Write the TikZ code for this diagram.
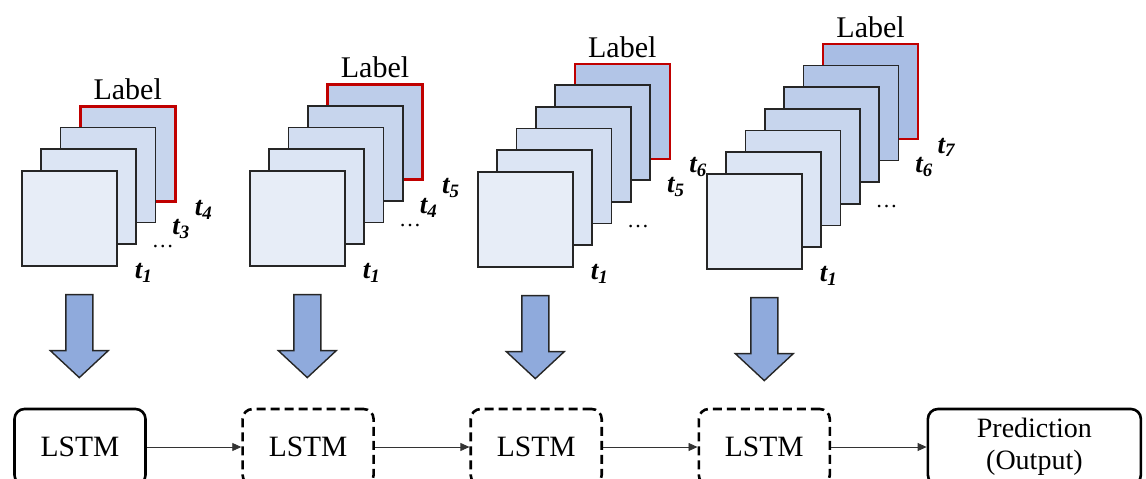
\documentclass[tikz,border=0pt]{standalone}
\usepackage{fontspec}
\setmainfont{Liberation Serif}
\usetikzlibrary{arrows.meta,positioning}

\definecolor{frontblue}{RGB}{231,237,247}
\definecolor{darkblue}{RGB}{143,170,220}
\definecolor{labelred}{RGB}{192,0,0}

\begin{document}
\begin{tikzpicture}[x=1pt, y=-1pt,
  frame/.style={draw=black!85, line width=1.6pt, minimum size=95pt, inner sep=0pt, anchor=north west},
  lastframe/.style={frame, draw=labelred, line width=2.6pt},
  lbl/.style={font=\fontsize{30}{32}\selectfont, inner sep=0pt},
  tlbl/.style={font=\fontsize{27}{30}\selectfont\bfseries\itshape, inner sep=0pt},
  dots/.style={font=\fontsize{22}{24}\selectfont, inner sep=0pt},
  bigarrow/.style={draw=black!85, line width=1.4pt, fill=darkblue, line join=miter},
  cell/.style={draw=black, line width=2.6pt, rounded corners=10pt, minimum width=131pt,
    minimum height=76pt, font=\fontsize{29.5}{32}\selectfont},
  dashcell/.style={dash pattern=on 9pt off 5pt},
  link/.style={draw=black!80, line width=0.8pt, -{Triangle[length=9pt,width=8pt]}}]
  \path[use as bounding box, clip] (0,0) rectangle (1146,479);
  % frame stacks
  \foreach \sx/\sy/\n/\mid [count=\i] in {21/170/4/1, 249/170/5/2, 477/171/6/2, 706/173/7/3}{
    \pgfmathtruncatemacro{\last}{\n-1}
    \pgfmathtruncatemacro{\prev}{\n-2}
    \pgfmathtruncatemacro{\pct}{100-12*\last}
    % labelled frame at the back
    \node[lastframe, fill=frontblue!\pct!darkblue] (s\i-\last) at (\sx+19.3*\last, \sy-21.7*\last) {};
    \node[lbl, above=5pt of s\i-\last] (lab\i) {Label};
    \foreach \k in {\prev,...,0}{
      \pgfmathtruncatemacro{\pct}{100-12*\k}
      \node[frame, fill=frontblue!\pct!darkblue] (s\i-\k) at (\sx+19.3*\k, \sy-21.7*\k) {};
    }
    % time steps
    \node[tlbl] (t\i-a) at ([shift={(26,6)}]s\i-0.south east) {t\textsubscript{1}};
    \node[dots] (d\i) at ([shift={(26,2)}]s\i-\mid.south east) {…};
    \node[tlbl] (t\i-b) at ([shift={(25,6)}]s\i-\prev.south east) {t\textsubscript{\last}};
    \node[tlbl] (t\i-c) at ([shift={(27,7)}]s\i-\last.south east) {t\textsubscript{\n}};
    % block arrow down
    \coordinate (a\i) at ([shift={(10,28)}]s\i-0.south);
    \draw[bigarrow] (a\i) ++(-13.5,0) -- ++(0,56) -- ++(-15.5,0) -- ++(29,27)
      -- ++(29,-27) -- ++(-15.5,0) -- ++(0,-56) -- cycle;
  }
  % recurrent chain
  \node[cell] (l1) at (80,447) {LSTM};
  \node[cell, dashcell, right=94.5pt of l1] (l2) {LSTM};
  \node[cell, dashcell, right=94.5pt of l2] (l3) {LSTM};
  \node[cell, dashcell, right=94.5pt of l3] (l4) {LSTM};
  \node[cell, minimum width=213pt, align=center, right=95.5pt of l4,
    font=\fontsize{28}{32}\selectfont] (out) {Prediction\\(Output)};
  \foreach \a/\b in {l1/l2, l2/l3, l3/l4, l4/out}
    \draw[link] (\a) -- (\b);
\end{tikzpicture}
\end{document}
